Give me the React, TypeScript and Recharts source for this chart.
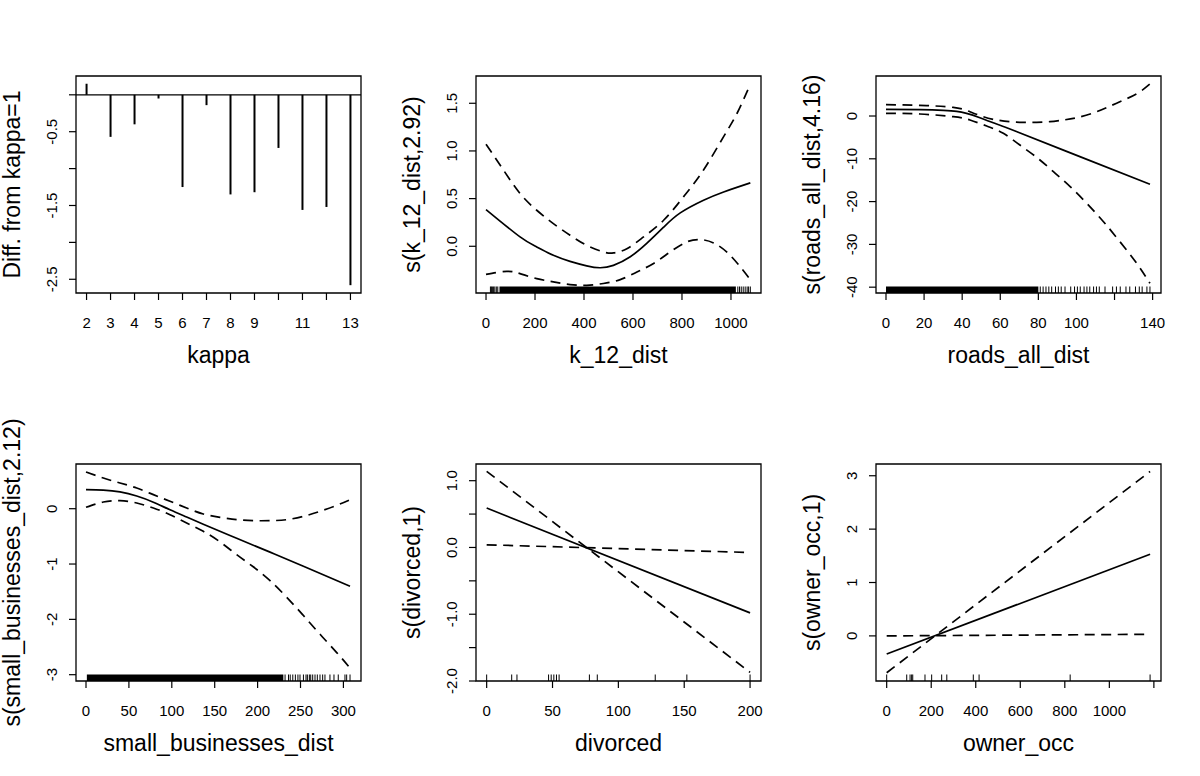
import React from 'react';
import { ComposedChart, Line, Bar, XAxis, YAxis, ReferenceArea, ReferenceLine } from 'recharts';

const FONT = '"Liberation Sans", Arial, Helvetica, sans-serif';
const CELL_W = 400;
const CELL_H = 388;
const BOX_L = 76;
const BOX_T = 76;
const BOX_W = 285;
const BOX_H = 217;
const RUG_FRAC = 0.03;
const TICK_FS = 15;
const TITLE_FS = 23;
const LW = 1.7;
const DASH = '10 6.5';

// ---------- Panel 1: kappa ----------
const kappaX = [2, 3, 4, 5, 6, 7, 8, 9, 10, 11, 12, 13];
const kappaDiff = [0.15, -0.57, -0.4, -0.05, -1.25, -0.14, -1.35, -1.32, -0.72, -1.56, -1.52, -2.58];
const kappaXTicks = [2, 3, 4, 5, 6, 7, 8, 9, 10, 11, 12, 13];
const kappaXLabels = ['2', '3', '4', '5', '6', '7', '8', '9', '', '11', '', '13'];
const kappaYTicks = [0, -0.5, -1, -1.5, -2, -2.5];
const kappaYLabels = ['', '-0.5', '', '-1.5', '', '-2.5'];

// ---------- Panel 2: k_12_dist ----------
const k12FitX = [0, 139, 207, 275, 343, 411, 465, 520, 589, 656, 725, 793, 888, 970, 1079];
const k12FitY = [0.385, 0.098, -0.007, -0.095, -0.158, -0.205, -0.225, -0.2, -0.11, 0.03, 0.2, 0.35, 0.483, 0.57, 0.665];
const k12UpX = [0, 71, 139, 207, 275, 343, 411, 479, 520, 575, 643, 725, 806, 888, 970, 1024, 1079];
const k12UpY = [1.07, 0.8, 0.553, 0.378, 0.238, 0.116, 0.01, -0.059, -0.07, -0.025, 0.098, 0.273, 0.518, 0.8, 1.15, 1.39, 1.7];
const k12LoX = [0, 85, 139, 207, 275, 343, 411, 479, 548, 616, 684, 752, 820, 874, 929, 997, 1079];
const k12LoY = [-0.294, -0.263, -0.287, -0.339, -0.374, -0.402, -0.409, -0.39, -0.35, -0.27, -0.18, -0.059, 0.046, 0.07, 0.035, -0.095, -0.35];
const k12Rug = [18, 22, 26, 31, 36, 42, 48, 1028, 1035, 1042, 1050, 1058, 1066, 1072, 1079];
const k12RugDense = [55, 1020];
const k12XTicks = [0, 200, 400, 600, 800, 1000];
const k12XLabels = ['0', '200', '400', '600', '800', '1000'];
const k12YTicks = [0, 0.5, 1, 1.5];
const k12YLabels = ['0.0', '0.5', '1.0', '1.5'];

// ---------- Panel 3: roads_all_dist ----------
const roadsFitX = [0, 17.8, 30.1, 37.1, 42.3, 49.3, 58.1, 65.1, 101.8, 138.6];
const roadsFitY = [1.56, 1.48, 1.32, 1.09, 0.62, -0.39, -1.87, -3.04, -9.5, -15.96];
const roadsUpX = [0, 17.8, 35.3, 44.1, 51.1, 58.1, 65.1, 72.1, 79.1, 86.1, 93.1, 100.1, 110.6, 121.1, 131.6, 138.6];
const roadsUpY = [2.65, 2.49, 2.02, 1.01, -0.16, -0.93, -1.32, -1.48, -1.48, -1.32, -0.93, -0.4, 1.0, 3.0, 5.2, 7.48];
const roadsLoX = [0, 17.8, 35.3, 44.1, 52.9, 61.6, 70.3, 79.1, 87.9, 96.7, 105.4, 114.2, 122.9, 131.6, 138.6];
const roadsLoY = [0.62, 0.47, -0.16, -0.93, -2.34, -4.05, -6.78, -9.66, -13.0, -16.5, -20.4, -24.7, -29.4, -34.4, -39.1];
const roadsRug = [81, 82.5, 84, 85.5, 87, 89, 90.5, 92, 94, 97, 99, 100.5, 102, 104, 105.5, 107, 109, 110.5, 112, 115, 119, 121, 123, 126, 128, 131, 133, 134.5, 137, 138.6];
const roadsRugDense = [0, 80];
const roadsXTicks = [0, 20, 40, 60, 80, 100, 120, 140];
const roadsXLabels = ['0', '20', '40', '60', '80', '100', '', '140'];
const roadsYTicks = [0, -10, -20, -30, -40];
const roadsYLabels = ['0', '-10', '-20', '-30', '-40'];

// ---------- Panel 4: small_businesses_dist ----------
const sbFitX = [0, 20.2, 39.6, 59.1, 78.5, 97.9, 117.3, 136.7, 175.6, 214.5, 253.4, 307.7];
const sbFitY = [0.344, 0.335, 0.303, 0.23, 0.118, -0.02, -0.15, -0.28, -0.535, -0.785, -1.04, -1.4];
const sbBandX = [0, 20.2, 39.6, 59.1, 78.5, 97.9, 117.3, 136.7, 156.2, 175.6, 194.9, 214.5, 233.9, 253.4, 272.8, 292.2, 307.7];
const sbUpY = [0.663, 0.555, 0.465, 0.374, 0.254, 0.134, 0.013, -0.096, -0.156, -0.198, -0.216, -0.216, -0.198, -0.138, -0.047, 0.061, 0.163];
const sbLoY = [0.025, 0.121, 0.145, 0.103, 0.013, -0.108, -0.258, -0.409, -0.6, -0.83, -1.05, -1.3, -1.6, -1.93, -2.27, -2.6, -2.88];
const sbRug = [232, 236, 238, 241, 244, 247, 249.4, 253.4, 256.4, 258, 260.3, 261.9, 264.2, 266.9, 269.6, 272.7, 275.8, 278.5, 284.3, 289, 294, 301.8, 303.8, 307.7];
const sbRugDense = [1, 230];
const sbXTicks = [0, 50, 100, 150, 200, 250, 300];
const sbXLabels = ['0', '50', '100', '150', '200', '250', '300'];
const sbYTicks = [0, -1, -2, -3];
const sbYLabels = ['0', '-1', '-2', '-3'];

// ---------- Panel 5: divorced ----------
const divX = [0, 200];
const divFitY = [0.59, -0.98];
const divBandAY = [1.14, -1.87];
const divBandBY = [0.04, -0.075];
const divRug = [0, 19, 23, 47, 49, 51, 53, 55, 78, 84, 128, 152, 200];
const divXTicks = [0, 50, 100, 150, 200];
const divXLabels = ['0', '50', '100', '150', '200'];
const divYTicks = [1, 0.5, 0, -0.5, -1, -1.5, -2];
const divYLabels = ['1.0', '', '0.0', '', '-1.0', '', '-2.0'];

// ---------- Panel 6: owner_occ ----------
const ownX = [0, 1183];
const ownFitY = [-0.34, 1.53];
const ownBandAY = [-0.69, 3.08];
const ownBandBY = [0.0, 0.03];
const ownRug = [0, 90, 105, 112, 117, 172, 202, 247, 270, 389, 415, 824, 1183];
const ownXTicks = [0, 200, 400, 600, 800, 1000, 1200];
const ownXLabels = ['0', '200', '400', '600', '800', '1000', ''];
const ownYTicks = [0, 1, 2, 3];
const ownYLabels = ['0', '1', '2', '3'];

// ---------- helpers ----------
const pts = (xs: number[], ys: number[]) => xs.map((x, i) => ({ x, y: ys[i] }));

type PanelProps = {
  col: number;
  row: number;
  data?: any[];
  xDomain: [number, number];
  yDomain: [number, number];
  xTicks: number[];
  xLabels: string[];
  yTicks: number[];
  yLabels: string[];
  xTitle: string;
  yTitle: string;
  series: React.ReactNode[];
};

function Panel(p: PanelProps) {
  const XTick = (props: any) => {
    const { x, payload } = props;
    const i = p.xTicks.indexOf(payload.value);
    const lab = i >= 0 ? p.xLabels[i] : '';
    return (
      <text x={x} y={BOX_T + BOX_H + 29} textAnchor="middle" dominantBaseline="central" fontFamily={FONT} fontSize={TICK_FS} fill="#000">
        {lab}
      </text>
    );
  };
  const YTick = (props: any) => {
    const { y, payload } = props;
    const i = p.yTicks.indexOf(payload.value);
    const lab = i >= 0 ? p.yLabels[i] : '';
    const cx = BOX_L - 24.5;
    return (
      <text x={cx} y={y} transform={`rotate(-90, ${cx}, ${y})`} textAnchor="middle" dominantBaseline="central" fontFamily={FONT} fontSize={TICK_FS} fill="#000">
        {lab}
      </text>
    );
  };
  const XTitle = () => (
    <text x={BOX_L + BOX_W / 2} y={BOX_T + BOX_H + 69.5} textAnchor="middle" fontFamily={FONT} fontSize={TITLE_FS} fill="#000">
      {p.xTitle}
    </text>
  );
  const cy = BOX_T + BOX_H / 2;
  const tx = 20;
  const YTitle = () => (
    <text x={tx} y={cy} transform={`rotate(-90, ${tx}, ${cy})`} textAnchor="middle" fontFamily={FONT} fontSize={TITLE_FS} fill="#000">
      {p.yTitle}
    </text>
  );
  return (
    <div style={{ position: 'absolute', left: p.col * CELL_W, top: p.row * CELL_H, width: CELL_W, height: CELL_H }}>
      <ComposedChart
        width={CELL_W}
        height={CELL_H}
        data={p.data}
        margin={{ top: BOX_T, right: CELL_W - BOX_L - BOX_W, bottom: 0, left: 0 }}
      >
        <XAxis
          type="number"
          dataKey="x"
          domain={p.xDomain}
          allowDataOverflow
          ticks={p.xTicks}
          interval={0}
          height={CELL_H - BOX_T - BOX_H}
          tickSize={7}
          tickMargin={0}
          axisLine={false}
          tickLine={{ stroke: '#000', strokeWidth: 1.2 }}
          tick={XTick}
          label={XTitle}
        />
        <YAxis
          type="number"
          dataKey="y"
          domain={p.yDomain}
          allowDataOverflow
          ticks={p.yTicks}
          interval={0}
          width={BOX_L}
          tickSize={7}
          tickMargin={0}
          axisLine={false}
          tickLine={{ stroke: '#000', strokeWidth: 1.2 }}
          tick={YTick}
          label={YTitle}
        />
        <ReferenceArea
          x1={p.xDomain[0]}
          x2={p.xDomain[1]}
          y1={p.yDomain[0]}
          y2={p.yDomain[1]}
          fill="none"
          fillOpacity={0}
          stroke="#000"
          strokeWidth={1.3}
          ifOverflow="visible"
        />
        {p.series}
      </ComposedChart>
    </div>
  );
}

function rug(key: string, values: number[], dense: number[] | null, yDomain: [number, number]) {
  const y0 = yDomain[0];
  const len = RUG_FRAC * (yDomain[1] - yDomain[0]);
  const els: React.ReactNode[] = values.map((v, i) => (
    <ReferenceLine
      key={`${key}-r${i}`}
      segment={[{ x: v, y: y0 }, { x: v, y: y0 + len }]}
      stroke="#000"
      strokeWidth={1}
      ifOverflow="visible"
    />
  ));
  if (dense) {
    els.push(
      <ReferenceArea
        key={`${key}-dense`}
        x1={dense[0]}
        x2={dense[1]}
        y1={y0}
        y2={y0 + len}
        fill="#000"
        fillOpacity={1}
        stroke="none"
        ifOverflow="visible"
      />
    );
  }
  return els;
}

function line(key: string, data: { x: number; y: number }[], dashed: boolean, curved: boolean) {
  return (
    <Line
      key={key}
      data={data}
      dataKey="y"
      type={curved ? 'natural' : 'linear'}
      stroke="#000"
      strokeWidth={LW}
      strokeDasharray={dashed ? DASH : undefined}
      dot={false}
      activeDot={false}
      isAnimationActive={false}
    />
  );
}

export default function App() {
  const d1: [number, number] = [1.56, 13.44];
  const y1: [number, number] = [-2.686, 0.255];
  const d2: [number, number] = [-40.9, 1122.6];
  const y2: [number, number] = [-0.49, 1.786];
  const d3: [number, number] = [-5.25, 144.4];
  const y3: [number, number] = [-41.36, 9.35];
  const d4: [number, number] = [-11.66, 320.5];
  const y4: [number, number] = [-3.114, 0.808];
  const d5: [number, number] = [-8.1, 208.3];
  const y5: [number, number] = [-2.0, 1.25];
  const d6: [number, number] = [-48, 1232];
  const y6: [number, number] = [-0.845, 3.22];

  const kappaData = pts(kappaX, kappaDiff);

  return (
    <div style={{ position: 'absolute', left: 0, top: 0, width: 1200, height: 776, background: '#fff' }}>
      <Panel
        col={0}
        row={0}
        data={kappaData}
        xDomain={d1}
        yDomain={y1}
        xTicks={kappaXTicks}
        xLabels={kappaXLabels}
        yTicks={kappaYTicks}
        yLabels={kappaYLabels}
        xTitle="kappa"
        yTitle="Diff. from kappa=1"
        series={[
          <ReferenceLine key="h0" y={0} stroke="#000" strokeWidth={1.3} />,
          <Bar key="bars" dataKey="y" barSize={2} fill="#000" isAnimationActive={false} />,
        ]}
      />
      <Panel
        col={1}
        row={0}
        xDomain={d2}
        yDomain={y2}
        xTicks={k12XTicks}
        xLabels={k12XLabels}
        yTicks={k12YTicks}
        yLabels={k12YLabels}
        xTitle="k_12_dist"
        yTitle="s(k_12_dist,2.92)"
        series={[
          ...rug('k12', k12Rug, k12RugDense, y2),
          line('k12up', pts(k12UpX, k12UpY), true, true),
          line('k12lo', pts(k12LoX, k12LoY), true, true),
          line('k12fit', pts(k12FitX, k12FitY), false, true),
        ]}
      />
      <Panel
        col={2}
        row={0}
        xDomain={d3}
        yDomain={y3}
        xTicks={roadsXTicks}
        xLabels={roadsXLabels}
        yTicks={roadsYTicks}
        yLabels={roadsYLabels}
        xTitle="roads_all_dist"
        yTitle="s(roads_all_dist,4.16)"
        series={[
          ...rug('roads', roadsRug, roadsRugDense, y3),
          line('roadsup', pts(roadsUpX, roadsUpY), true, true),
          line('roadslo', pts(roadsLoX, roadsLoY), true, true),
          line('roadsfit', pts(roadsFitX, roadsFitY), false, true),
        ]}
      />
      <Panel
        col={0}
        row={1}
        xDomain={d4}
        yDomain={y4}
        xTicks={sbXTicks}
        xLabels={sbXLabels}
        yTicks={sbYTicks}
        yLabels={sbYLabels}
        xTitle="small_businesses_dist"
        yTitle="s(small_businesses_dist,2.12)"
        series={[
          ...rug('sb', sbRug, sbRugDense, y4),
          line('sbup', pts(sbBandX, sbUpY), true, true),
          line('sblo', pts(sbBandX, sbLoY), true, true),
          line('sbfit', pts(sbFitX, sbFitY), false, true),
        ]}
      />
      <Panel
        col={1}
        row={1}
        xDomain={d5}
        yDomain={y5}
        xTicks={divXTicks}
        xLabels={divXLabels}
        yTicks={divYTicks}
        yLabels={divYLabels}
        xTitle="divorced"
        yTitle="s(divorced,1)"
        series={[
          ...rug('div', divRug, null, y5),
          line('diva', pts(divX, divBandAY), true, false),
          line('divb', pts(divX, divBandBY), true, false),
          line('divfit', pts(divX, divFitY), false, false),
        ]}
      />
      <Panel
        col={2}
        row={1}
        xDomain={d6}
        yDomain={y6}
        xTicks={ownXTicks}
        xLabels={ownXLabels}
        yTicks={ownYTicks}
        yLabels={ownYLabels}
        xTitle="owner_occ"
        yTitle="s(owner_occ,1)"
        series={[
          ...rug('own', ownRug, null, y6),
          line('owna', pts(ownX, ownBandAY), true, false),
          line('ownb', pts(ownX, ownBandBY), true, false),
          line('ownfit', pts(ownX, ownFitY), false, false),
        ]}
      />
    </div>
  );
}
